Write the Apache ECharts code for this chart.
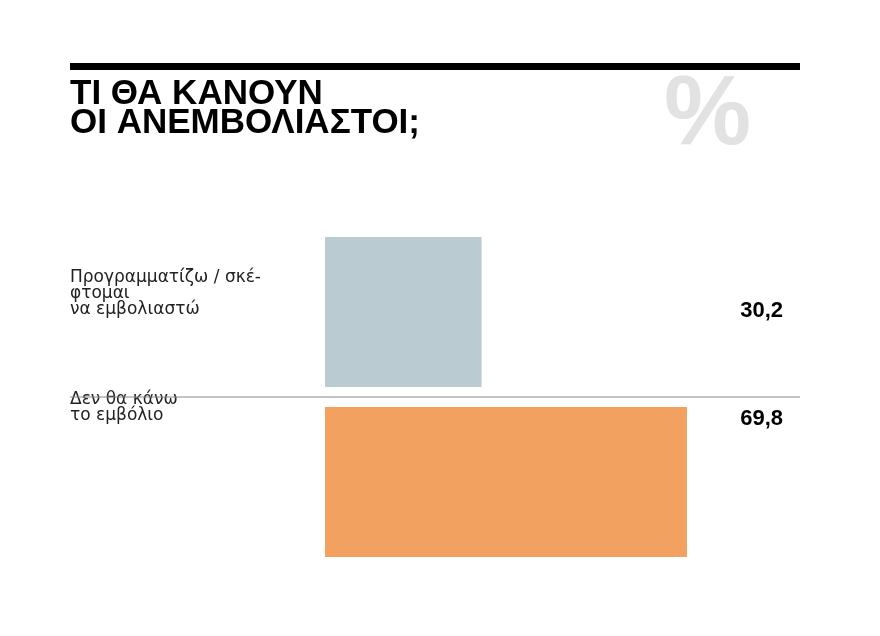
<!DOCTYPE html>
<html>
<head>
<meta charset="utf-8">
<script src="https://cdn.jsdelivr.net/npm/echarts@6/dist/echarts.min.js"></script>
<style>html,body{margin:0;background:#fff}</style>
</head>
<body>
<div id="main" style="width:880px;height:636px;"></div>
<script>
var categories = ['Προγραμματίζω / σκέ-\nφτομαι\nνα εμβολιαστώ', 'Δεν θα κάνω\nτο εμβόλιο'];
var values = [30.2, 69.8];
var colors = ['#bacbd2', '#f3a160'];
var labelTops = [269, 391];
var valueTops = [300, 408];

var myChart = echarts.init(document.getElementById('main'));
var graphics = [
  { type: 'rect', shape: { x: 70, y: 63, width: 730, height: 7 }, style: { fill: '#000' } },
  { type: 'text', left: 70, top: 77, style: { text: 'ΤΙ ΘΑ ΚΑΝΟΥΝ\nΟΙ ΑΝΕΜΒΟΛΙΑΣΤΟΙ;', font: 'bold 35px "Liberation Sans", Arial', lineHeight: 29, fill: '#000' } },
  { type: 'text', left: 664, top: 68, style: { text: '%', font: 'bold 98px "Liberation Sans", Arial', fill: '#e2e2e2' } },
  { type: 'line', shape: { x1: 70, y1: 397, x2: 800, y2: 397 }, style: { stroke: '#888', lineWidth: 1 }, z: 10 }
];
categories.forEach(function (c, i) {
  graphics.push({ type: 'text', left: 70, top: labelTops[i], style: { text: c, font: '17px "DejaVu Sans"', lineHeight: 16, fill: '#222' } });
  graphics.push({ type: 'text', right: 97, top: valueTops[i], style: { text: String(values[i]).replace('.', ','), font: 'bold 22px "Liberation Sans", Arial', fill: '#000', align: 'right' } });
});

var option = {
  animation: false,
  grid: { left: 325, top: 227, width: 518.6, height: 340 },
  xAxis: { type: 'value', min: 0, max: 100, show: false },
  yAxis: { type: 'category', data: categories, inverse: true, show: false },
  series: [{
    type: 'bar',
    barWidth: 150,
    data: values.map(function (v, i) { return { value: v, itemStyle: { color: colors[i] } }; })
  }],
  graphic: graphics
};
myChart.setOption(option);
</script>
</body>
</html>
